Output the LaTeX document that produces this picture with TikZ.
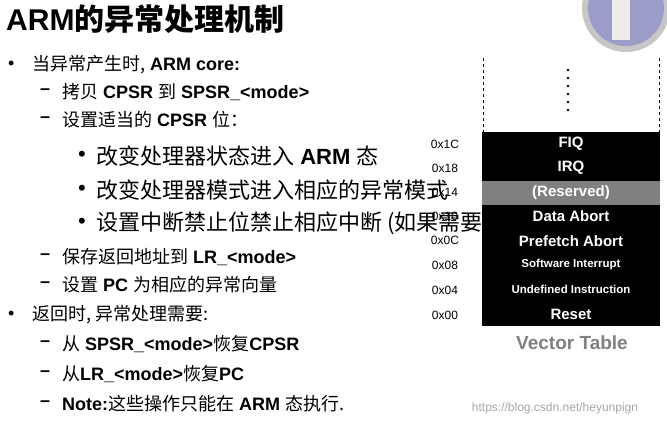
\documentclass[tikz,border=0pt]{standalone}
\usepackage{fontspec}
\setmainfont{Liberation Sans}
\newfontfamily\cjk{Noto Sans CJK SC}
\newcommand{\zh}[1]{{\cjk #1}}
\begin{document}
\begin{tikzpicture}[x=1pt,y=-1pt,
  txt/.style={anchor=west,inner sep=0pt,font=\fontsize{18}{20}\selectfont},
  big/.style={anchor=west,inner sep=0pt,font=\fontsize{22}{24}\selectfont},
  addr/.style={anchor=center,inner sep=0pt,font=\fontsize{12}{13}\selectfont},
  row/.style={anchor=center,inner sep=0pt,text=white,font=\bfseries\fontsize{15}{16}\selectfont},
  srow/.style={anchor=center,inner sep=0pt,text=white,font=\bfseries\fontsize{11.5}{12}\selectfont}]
\useasboundingbox (0,0) rectangle (667,426);
\fill[white] (0,0) rectangle (667,426);
% corner picture
\begin{scope}
\clip (0,0) rectangle (667,426);
\fill[gray!45] (626,8) circle (44);
\fill[blue!30!gray!60] (626,8) circle (38);
\fill[gray!15] (612,-10) rectangle (630,40);
\end{scope}
\node[anchor=west,inner sep=0pt,font=\bfseries\fontsize{30}{32}\selectfont] (title) at (6,19) {ARM\zh{的异常处理机制}};
\node[txt] (b1) at (8,65) {•};
\node[txt] (t1) at (32,65) {\zh{当异常产生时,} \textbf{ARM core:}};
\node[txt] (d1) at (40,92) {\textbf{–}};
\node[txt] (t2) at (62,92) {\zh{拷贝} \textbf{CPSR} \zh{到} \textbf{SPSR\_<mode>}};
\node[txt] (d2) at (40,120) {\textbf{–}};
\node[txt] (t3) at (62,120) {\zh{设置适当的} \textbf{CPSR} \zh{位：}};
\node[big] (s1) at (78,156) {•};
\node[big] (u1) at (96,156) {\zh{改变处理器状态进入} \textbf{ARM} \zh{态}};
\node[big] (s2) at (78,190) {•};
\node[big] (u2) at (96,190) {\zh{改变处理器模式进入相应的异常模式}};
\node[big] (s3) at (78,223) {•};
\node[big] (u3) at (96,223) {\zh{设置中断禁止位禁止相应中断 (如果需要)}};
\node[txt] (d3) at (40,257) {\textbf{–}};
\node[txt] (t4) at (62,257) {\zh{保存返回地址到} \textbf{LR\_<mode>}};
\node[txt] (d4) at (40,285) {\textbf{–}};
\node[txt] (t5) at (62,285) {\zh{设置} \textbf{PC} \zh{为相应的异常向量}};
\node[txt] (b2) at (8,315) {•};
\node[txt] (t6) at (32,315) {\zh{返回时, 异常处理需要:}};
\node[txt] (d5) at (40,344) {\textbf{–}};
\node[txt] (t7) at (62,344) {\zh{从} \textbf{SPSR\_<mode>}\zh{恢复}\textbf{CPSR}};
\node[txt] (d6) at (40,374) {\textbf{–}};
\node[txt] (t8) at (62,374) {\zh{从}\textbf{LR\_<mode>}\zh{恢复}\textbf{PC}};
\node[txt] (d7) at (40,404) {\textbf{–}};
\node[txt] (t9) at (62,404) {\textbf{Note:}\zh{这些操作只能在} \textbf{ARM} \zh{态执行.}};
% addresses
\node[addr] (a1) at (445,144) {0x1C};
\node[addr] (a2) at (445,168) {0x18};
\node[addr] (a3) at (445,192) {0x14};
\node[addr] (a4) at (445,216) {0x10};
\node[addr] (a5) at (445,240) {0x0C};
\node[addr] (a6) at (445,265) {0x08};
\node[addr] (a7) at (445,290) {0x04};
\node[addr] (a8) at (445,315) {0x00};
% table
\draw[dashed,thin] (483,58) -- (483,132);
\draw[dashed,thin] (659,58) -- (659,132);
\foreach \y in {70,78,86,94,102,110} \fill (568,\y) circle (1.4);
\fill[black] (482,132) rectangle (660,326);
\fill[black!50] (482,181) rectangle (660,205);
\node[row] (r1) at (571,144) {FIQ};
\node[row] (r2) at (571,168) {IRQ};
\node[row] (r3) at (571,193) {(Reserved)};
\node[row] (r4) at (571,216) {Data Abort};
\node[row] (r5) at (571,241) {Prefetch Abort};
\node[srow] (r6) at (571,265) {Software Interrupt};
\node[srow] (r7) at (571,289) {Undefined Instruction};
\node[row] (r8) at (571,314) {Reset};
\node[anchor=center,inner sep=0pt,text=gray,font=\bfseries\fontsize{19}{20}\selectfont] (vt) at (572,343) {Vector Table};
\node[anchor=center,inner sep=0pt,text=gray!70,font=\fontsize{12}{13}\selectfont] (wm) at (555,408) {https://blog.csdn.net/heyunpign};
\end{tikzpicture}
\end{document}
